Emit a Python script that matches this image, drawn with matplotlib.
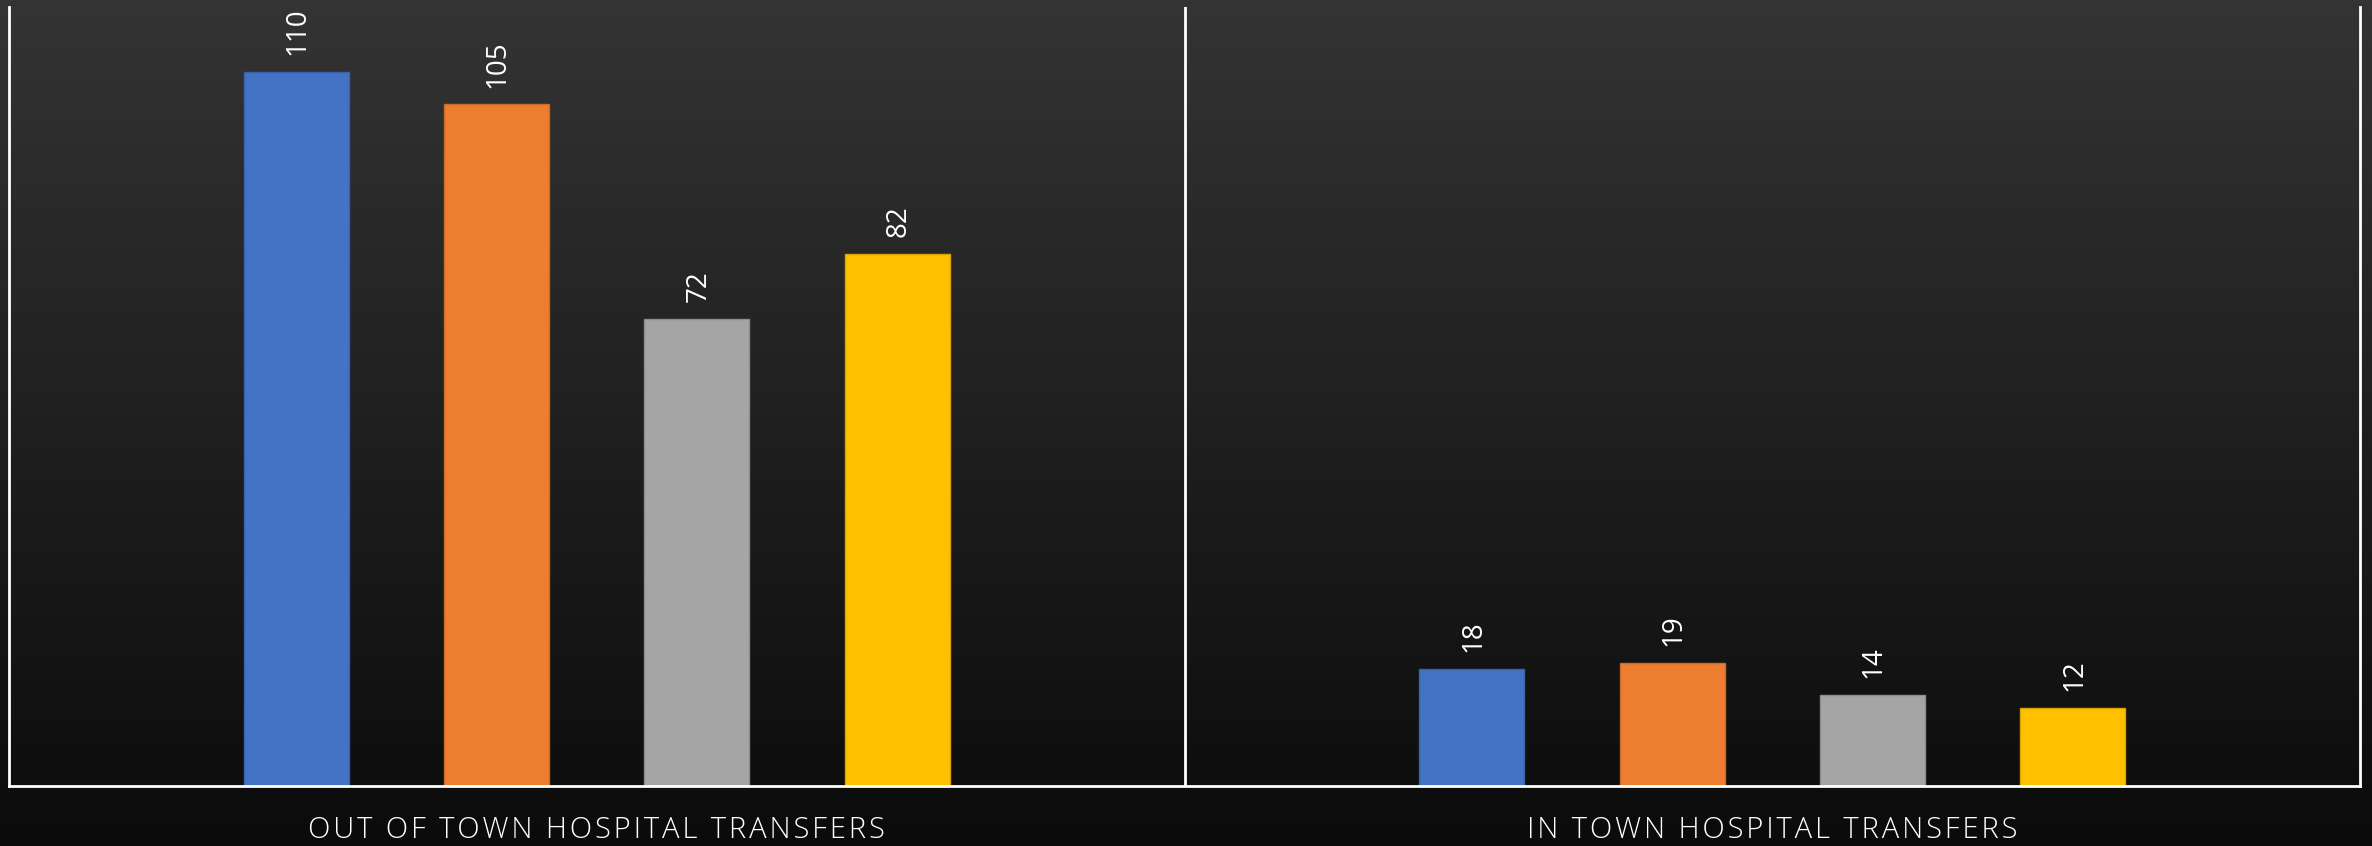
import matplotlib

matplotlib.use("Agg")
import matplotlib.pyplot as plt
import numpy as np

# transfers per year, grouped by destination
CATEGORIES = ["OUT OF TOWN HOSPITAL TRANSFERS", "IN TOWN HOSPITAL TRANSFERS"]
SERIES_COLORS = ["#4472C4", "#ED7D31", "#A5A5A5", "#FFC000"]
EDGE_COLORS = ["#3A62AA", "#C96A2A", "#8C8C8C", "#D9A300"]
VALUES = [
    [110, 18],
    [105, 19],
    [72, 14],
    [82, 12],
]
Y_MAX = 120

SLOT = 0.1705      # distance between bar centres (category units)
BAR_W = 0.0893

plt.rcParams["font.family"] = ["Open Sans", "DejaVu Sans"]


def spaced(s, gap="\u200a"):
    # widen the tracking a bit, like the axis labels in the deck
    return gap.join(s)


fig = plt.figure(figsize=(23.72, 8.46), dpi=100)

# dark vertical gradient behind everything
bg = fig.add_axes([0, 0, 1, 1], zorder=-10)
grad = np.linspace(0x34, 0x0b, 256)[:, None] / 255.0
bg.imshow(np.dstack([grad, grad, grad]), aspect="auto", extent=[0, 1, 0, 1])
bg.set_axis_off()

ax = fig.add_axes([9 / 2372, 60 / 846, (2360 - 9) / 2372, (786 - 7) / 846])
ax.patch.set_alpha(0)

x = np.arange(len(CATEGORIES))
n = len(VALUES)
for i, (vals, col, ec) in enumerate(zip(VALUES, SERIES_COLORS, EDGE_COLORS)):
    pos = x + (i - (n - 1) / 2) * SLOT
    bars = ax.bar(pos, vals, BAR_W, color=col, edgecolor=ec, linewidth=1)
    for b, v in zip(bars, vals):
        ax.annotate(str(v), (b.get_x() + b.get_width() / 2, v),
                    xytext=(1, 12), textcoords="offset points",
                    rotation=90, ha="center", va="bottom",
                    color="white", fontsize=20)

ax.set_xlim(-0.5, len(CATEGORIES) - 0.5)
ax.set_ylim(0, Y_MAX)
for k in range(1, len(CATEGORIES)):
    ax.axvline(k - 0.5, color="white", lw=2)

for side in ("left", "right", "bottom"):
    ax.spines[side].set_color("white")
    ax.spines[side].set_linewidth(2)
ax.spines["top"].set_visible(False)

ax.set_yticks([])
ax.set_xticks(x)
ax.set_xticklabels([spaced(c) for c in CATEGORIES], color="white",
                   fontsize=21, fontweight="light")
ax.tick_params(axis="x", length=0, pad=21)

fig.savefig("out.png", dpi=100)
